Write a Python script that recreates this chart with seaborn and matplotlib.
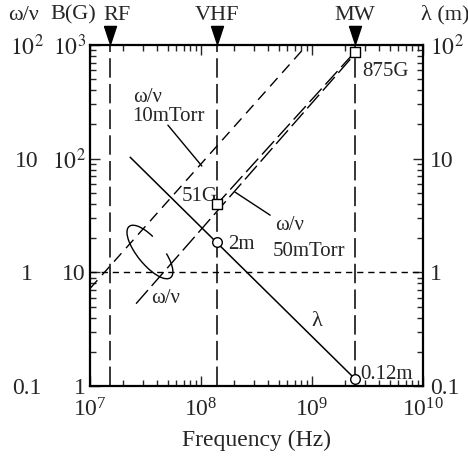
import matplotlib
matplotlib.use('Agg')
import matplotlib.pyplot as plt
import seaborn as sns
import pandas as pd
from matplotlib.patches import Arc
from matplotlib.path import Path

# ---------------- data ----------------
band_names = ['RF', 'VHF', 'MW']
band_freq = [1.5e7, 1.4e8, 2.45e9]          # Hz

nu10_freq = [1.0e7, 9.0e8]                   # omega/nu, 10 mTorr
nu10_ratio = [0.72, 100.0]

nu50_freq = [2.6e7, 2.4e9]                   # omega/nu, 50 mTorr
nu50_ratio = [0.53, 82.0]

ecr_freq = [1.4e8, 2.45e9]                   # ECR field B(G)
ecr_gauss = [40.0, 875.0]
ecr_labels = ['51G', '875G']

lam_freq = [2.3e7, 2.45e9]                   # wavelength line
lam_m = [10.3, 0.115]
mark_freq = [1.4e8, 2.45e9]
mark_lam = [1.85, 0.115]
mark_labels = ['2m', '0.12m']

x_ticks = [1e7, 1e8, 1e9, 1e10]
ratio_ticks = [0.1, 1, 10, 100]
ratio_labels = ['0.1', '1', '10', '$10^2$']
gauss_ticks = [1, 10, 100, 1000]
gauss_labels = ['1', '10', '$10^2$', '$10^3$']

# ---------------- style ----------------
sns.set_theme(style='ticks')
plt.rcParams['font.family'] = ['Liberation Serif', 'DejaVu Serif']
plt.rcParams['mathtext.fontset'] = 'stix'
plt.rcParams['lines.scale_dashes'] = False

fig = plt.figure(figsize=(4.68, 4.65), dpi=100)
ax = fig.add_axes([0.1923, 0.1699, 0.7115, 0.7333])
ax.set_xscale('log')
ax.set_yscale('log')
ax.set_xlim(1e7, 1e10)
ax.set_ylim(0.1, 100)

k = 'black'
TICK_FS = 17
ANN_FS = 15
HEAD_FS = 16

# vertical band lines
for f in band_freq:
    ax.axvline(f, color=k, lw=1.1, linestyle=(0, (14, 4.5)), zorder=2)
# omega/nu = 1 dotted line
ax.axhline(1, color=k, lw=1.0, linestyle=(0, (4.5, 3.5)), zorder=2)

df10 = pd.DataFrame({'f': nu10_freq, 'r': nu10_ratio})
sns.lineplot(data=df10, x='f', y='r', ax=ax, color=k, lw=1.0,
             linestyle=(0, (8, 5)), estimator=None, sort=False)
df50 = pd.DataFrame({'f': nu50_freq, 'r': nu50_ratio})
sns.lineplot(data=df50, x='f', y='r', ax=ax, color=k, lw=1.0,
             linestyle=(0, (13, 4)), estimator=None, sort=False)
dfl = pd.DataFrame({'f': lam_freq, 'l': lam_m})
sns.lineplot(data=dfl, x='f', y='l', ax=ax, color=k, lw=1.1,
             estimator=None, sort=False)
dfm = pd.DataFrame({'f': mark_freq, 'l': mark_lam})
sns.scatterplot(data=dfm, x='f', y='l', ax=ax, marker='o', s=48,
                color='white', edgecolor=k, linewidth=1.0, zorder=6)

# B(G) axis (twin)
axb = ax.twinx()
axb.set_yscale('log')
axb.set_ylim(1, 1000)
dfe = pd.DataFrame({'f': ecr_freq, 'b': ecr_gauss})
sns.lineplot(data=dfe, x='f', y='b', ax=axb, color=k, lw=1.0,
             linestyle=(3, (13, 4)), estimator=None, sort=False)
sns.scatterplot(data=dfe, x='f', y='b', ax=axb, marker='s', s=60,
                color='white', edgecolor=k, linewidth=1.0, zorder=6)
for s in axb.spines.values():
    s.set_visible(False)
axb.yaxis.tick_left()
axb.set_yticks(gauss_ticks)
axb.set_yticklabels(gauss_labels)
axb.yaxis.set_minor_locator(matplotlib.ticker.NullLocator())
axb.tick_params(axis='y', length=0, pad=3, labelsize=TICK_FS, left=True,
                right=False, labelleft=True, labelright=False)
axb.set_ylabel('')
axb.set_xlabel('')

# main axes ticks
ax.set_xticks(x_ticks)
ax.set_yticks(ratio_ticks)
ax.set_yticklabels(ratio_labels)
ax.tick_params(which='both', direction='in', top=True, right=True,
               labelright=True, labelsize=TICK_FS, width=1.0)
ax.tick_params(which='major', length=7)
ax.tick_params(which='minor', length=4.5)
ax.tick_params(axis='x', pad=9)
ax.tick_params(axis='y', pad=5)
for t in ax.yaxis.get_major_ticks():
    t.label1.set_horizontalalignment('center')
    t.label1.set_x(-0.19)
    t.label1.set_transform(ax.get_yaxis_transform())
for t in ax.yaxis.get_major_ticks():
    t.label2.set_horizontalalignment('left')
for s in ax.spines.values():
    s.set_linewidth(1.6)
    s.set_color(k)
ax.set_xlabel('Frequency (Hz)', fontsize=TICK_FS, labelpad=6)
ax.set_ylabel('')

# header labels
ta = ax.transAxes
top_y = 1.088
ax.text(-0.201, top_y, 'ω/ν', transform=ta, ha='center', va='center', fontsize=HEAD_FS)
ax.text(-0.050, top_y, 'B(G)', transform=ta, ha='center', va='center', fontsize=HEAD_FS)
ax.text(1.066, top_y, 'λ (m)', transform=ta, ha='center', va='center', fontsize=HEAD_FS)
xt = ax.get_xaxis_transform()
tri = Path([(-0.33, 0.5), (0.33, 0.5), (0.0, -0.5), (-0.33, 0.5)])
ax.scatter(band_freq, [1.029] * len(band_freq), transform=xt, marker=tri,
           s=170, color=k, clip_on=False, zorder=7)
# band names centred over their markers, RF nudged right as in the reference
band_label_x = [0.081, 0.381, 0.796]
for name, xa in zip(band_names, band_label_x):
    ax.text(xa, top_y, name, transform=ta, ha='center', va='center', fontsize=HEAD_FS)

# annotations
ax.text(0.129, 0.847, 'ω/ν', transform=ta, ha='left', va='center', fontsize=ANN_FS)
ax.text(0.126, 0.789, '10mTorr', transform=ta, ha='left', va='center', fontsize=ANN_FS)
ax.plot([0.234, 0.336], [0.765, 0.645], transform=ta, color=k, lw=1.0)
ax.text(0.556, 0.472, 'ω/ν', transform=ta, ha='left', va='center', fontsize=ANN_FS)
ax.text(0.550, 0.393, '50mTorr', transform=ta, ha='left', va='center', fontsize=ANN_FS)
ax.plot([0.435, 0.541], [0.569, 0.501], transform=ta, color=k, lw=1.0)
ax.text(0.276, 0.557, ecr_labels[0], transform=ta, ha='left', va='center', fontsize=ANN_FS)
ax.text(0.817, 0.921, ecr_labels[1], transform=ta, ha='left', va='center', fontsize=ANN_FS)
ax.text(0.414, 0.416, mark_labels[0], transform=ta, ha='left', va='center', fontsize=ANN_FS)
ax.text(0.811, 0.035, mark_labels[1], transform=ta, ha='left', va='center', fontsize=ANN_FS)
ax.text(0.682, 0.188, 'λ', transform=ta, ha='center', va='center', fontsize=ANN_FS + 1)
ax.text(0.228, 0.258, 'ω/ν', transform=ta, ha='center', va='center', fontsize=ANN_FS)
ax.add_patch(Arc((0.180, 0.393), 0.195, 0.075, angle=-50, theta1=129,
                 theta2=405, transform=ta, color=k, lw=1.0))

fig.savefig('out.png', dpi=100)
